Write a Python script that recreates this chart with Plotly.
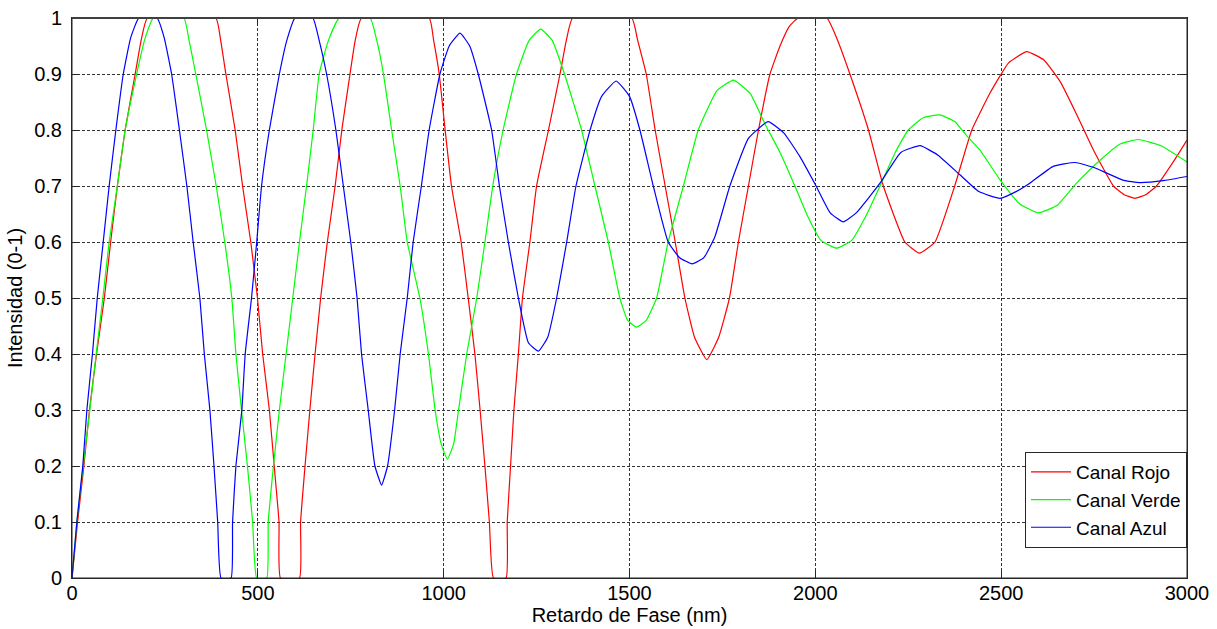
import plotly.graph_objects as go

# Retardo de fase (nm) and intensity values
rojo_x = [0, 15, 32, 47, 66, 87, 104, 122, 143, 170, 186, 203,
          387, 400, 414, 439, 459, 481, 499, 513, 531, 544, 557, 561,
          612, 615, 627, 640, 654, 669, 687, 708, 726, 748, 762, 779,
          961, 973, 988, 1004, 1021, 1047, 1066, 1084, 1098, 1111, 1123, 1134,
          1168, 1171, 1180, 1189, 1201, 1212, 1232, 1250, 1282, 1313, 1330, 1347,
          1506, 1522, 1545, 1569, 1596, 1623, 1649, 1675, 1708, 1740, 1769,
          1793, 1820, 1847, 1878, 1905, 1930, 1954,
          2031, 2060, 2093, 2143, 2183, 2241, 2280, 2322, 2375, 2421,
          2470, 2520, 2569, 2615, 2660, 2705, 2750, 2802, 2830, 2860, 2890, 2918, 2963, 3000]
rojo_y = [0, 0.1, 0.2, 0.3, 0.4, 0.5, 0.6, 0.7, 0.8, 0.9, 0.96, 1,
          1, 0.96, 0.9, 0.8, 0.7, 0.6, 0.5, 0.4, 0.3, 0.2, 0.1, 0,
          0, 0.1, 0.2, 0.3, 0.4, 0.5, 0.6, 0.7, 0.8, 0.9, 0.96, 1,
          1, 0.96, 0.9, 0.8, 0.7, 0.6, 0.5, 0.4, 0.3, 0.2, 0.1, 0,
          0, 0.1, 0.2, 0.3, 0.4, 0.5, 0.6, 0.7, 0.8, 0.9, 0.96, 1,
          1, 0.96, 0.9, 0.8, 0.7, 0.6, 0.5, 0.43, 0.39, 0.43, 0.5,
          0.6, 0.7, 0.8, 0.9, 0.95, 0.985, 1,
          1, 0.96, 0.9, 0.8, 0.7, 0.6, 0.58, 0.6, 0.7, 0.8,
          0.866, 0.92, 0.94, 0.925, 0.885, 0.825, 0.762, 0.7, 0.685, 0.678, 0.685, 0.7, 0.743, 0.782]

verde_x = [0, 13, 30, 48, 65, 83, 100, 122, 143, 174, 195, 219,
           301, 315, 333, 362, 388, 411, 430, 441, 456, 472, 486, 497,
           524, 528, 542, 558, 576, 594, 612, 631, 649, 665, 690, 719,
           802, 820, 838, 860, 883, 902, 936, 959, 977, 993, 1010, 1027, 1040, 1062, 1089,
           1111, 1132, 1160, 1196, 1230, 1261, 1292, 1325, 1371, 1407, 1443, 1474, 1495, 1519, 1545, 1573,
           1604, 1645, 1685, 1735, 1780, 1825, 1865, 1905, 1945, 1980, 2015, 2057, 2098, 2135, 2174,
           2215, 2250, 2290, 2335, 2375, 2407, 2443, 2497, 2550, 2600, 2650, 2703, 2766, 2820, 2869, 2930, 3000]
verde_y = [0, 0.1, 0.2, 0.3, 0.4, 0.5, 0.6, 0.7, 0.8, 0.9, 0.96, 1,
           1, 0.96, 0.9, 0.8, 0.7, 0.6, 0.5, 0.4, 0.3, 0.2, 0.1, 0,
           0, 0.1, 0.2, 0.3, 0.4, 0.5, 0.6, 0.7, 0.8, 0.9, 0.96, 1,
           1, 0.96, 0.9, 0.8, 0.7, 0.6, 0.5, 0.4, 0.3, 0.24, 0.212, 0.24, 0.3, 0.4, 0.5,
           0.6, 0.7, 0.8, 0.9, 0.96, 0.98, 0.96, 0.9, 0.8, 0.7, 0.6, 0.5, 0.46, 0.448, 0.46, 0.5,
           0.6, 0.7, 0.8, 0.87, 0.889, 0.865, 0.81, 0.76, 0.7, 0.645, 0.603, 0.589, 0.603, 0.645, 0.7,
           0.76, 0.8, 0.822, 0.827, 0.815, 0.79, 0.764, 0.711, 0.668, 0.652, 0.665, 0.705, 0.746, 0.775, 0.783, 0.772, 0.743]

azul_x = [0, 13, 29, 40, 55, 68, 84, 100, 118, 138, 158, 180,
          229, 248, 268, 289, 309, 326, 344, 356, 371, 382, 392, 401,
          428, 432, 441, 457, 466, 483, 497, 510, 531, 558, 578, 600,
          648, 665, 685, 710, 730, 750, 767, 779, 797, 815, 833, 849, 868, 883, 902,
          918, 940, 961, 990, 1015, 1044, 1070, 1093, 1129, 1150, 1174, 1201, 1228, 1255, 1280, 1304,
          1331, 1356, 1394, 1425, 1464, 1500, 1528, 1564, 1604, 1635, 1669, 1700, 1730, 1770, 1820, 1873, 1915,
          1959, 2002, 2040, 2075, 2110, 2174, 2230, 2282, 2330, 2389, 2440, 2497, 2540, 2577, 2640, 2699, 2750, 2784,
          2830, 2873, 2940, 3000]
azul_y = [0, 0.1, 0.2, 0.3, 0.4, 0.5, 0.6, 0.7, 0.8, 0.9, 0.965, 1,
          1, 0.965, 0.9, 0.8, 0.7, 0.6, 0.5, 0.4, 0.3, 0.2, 0.1, 0,
          0, 0.1, 0.2, 0.3, 0.4, 0.5, 0.6, 0.7, 0.8, 0.9, 0.96, 1,
          1, 0.96, 0.9, 0.8, 0.7, 0.6, 0.5, 0.4, 0.3, 0.2, 0.166, 0.2, 0.3, 0.4, 0.5,
          0.6, 0.7, 0.8, 0.9, 0.95, 0.973, 0.95, 0.9, 0.8, 0.7, 0.6, 0.5, 0.42, 0.405, 0.43, 0.5,
          0.6, 0.7, 0.8, 0.86, 0.8875, 0.86, 0.8, 0.7, 0.6, 0.572, 0.561, 0.572, 0.61, 0.7, 0.785, 0.815, 0.795,
          0.752, 0.7, 0.652, 0.636, 0.652, 0.705, 0.76, 0.772, 0.755, 0.72, 0.69, 0.678, 0.69, 0.705, 0.735, 0.742, 0.733, 0.723,
          0.71, 0.706, 0.71, 0.717]

x_ticks = [0, 500, 1000, 1500, 2000, 2500, 3000]
y_ticks = [0, 0.1, 0.2, 0.3, 0.4, 0.5, 0.6, 0.7, 0.8, 0.9, 1]
y_tick_labels = ["0", "0.1", "0.2", "0.3", "0.4", "0.5", "0.6", "0.7", "0.8", "0.9", "1"]

FONT = "Arial, Liberation Sans, sans-serif"
FS = 20

fig = go.Figure()
for name, xs, ys, col in [("Canal Rojo", rojo_x, rojo_y, "#ff0000"),
                          ("Canal Verde", verde_x, verde_y, "#00ff00"),
                          ("Canal Azul", azul_x, azul_y, "#0000ff")]:
    fig.add_trace(go.Scatter(x=xs, y=ys, mode="lines", name=name,
                             line=dict(color=col, width=1.2, shape="spline", smoothing=0.4)))

axis_common = dict(showline=True, linecolor="#262626", linewidth=1, mirror="ticks",
                   ticks="inside", ticklen=7, tickcolor="#262626", automargin=False,
                   showgrid=True, gridcolor="#333333", gridwidth=1, griddash="3px,2px",
                   zeroline=False, tickfont=dict(family=FONT, size=FS, color="black"))

fig.update_xaxes(range=[0, 3000], tickvals=x_ticks, ticktext=[str(v) for v in x_ticks],
                 ticklabelstandoff=-3,
                 title=dict(text="Retardo de Fase (nm)", font=dict(family=FONT, size=FS, color="black"), standoff=2),
                 **axis_common)
fig.update_yaxes(range=[0, 1], tickvals=y_ticks, ticktext=y_tick_labels,
                 ticklabelstandoff=5,
                 title=dict(text="Intensidad (0-1)", font=dict(family=FONT, size=FS, color="black"), standoff=6),
                 **axis_common)

# axes frame (top edge drawn as its own line so it stays visible)
fig.add_shape(type="rect", xref="paper", yref="paper", x0=0, y0=0, x1=1, y1=1,
              line=dict(color="#262626", width=1), layer="above")
fig.add_shape(type="line", xref="paper", yref="paper", x0=0, y0=1, x1=1, y1=1,
              line=dict(color="#404040", width=2), layer="above")

fig.update_layout(
    width=1217, height=629,
    margin=dict(l=72, r=30, t=18, b=51),
    paper_bgcolor="white", plot_bgcolor="white",
    showlegend=True,
    legend=dict(x=1, y=0.0536, xanchor="right", yanchor="bottom",
                bgcolor="white", bordercolor="#262626", borderwidth=1,
                font=dict(family=FONT, size=19, color="black"),
                tracegroupgap=0, itemwidth=40),
)

fig.write_html("out.html", config={"displayModeBar": False},
               post_script="document.body.style.margin='0';document.body.style.overflow='hidden';")
